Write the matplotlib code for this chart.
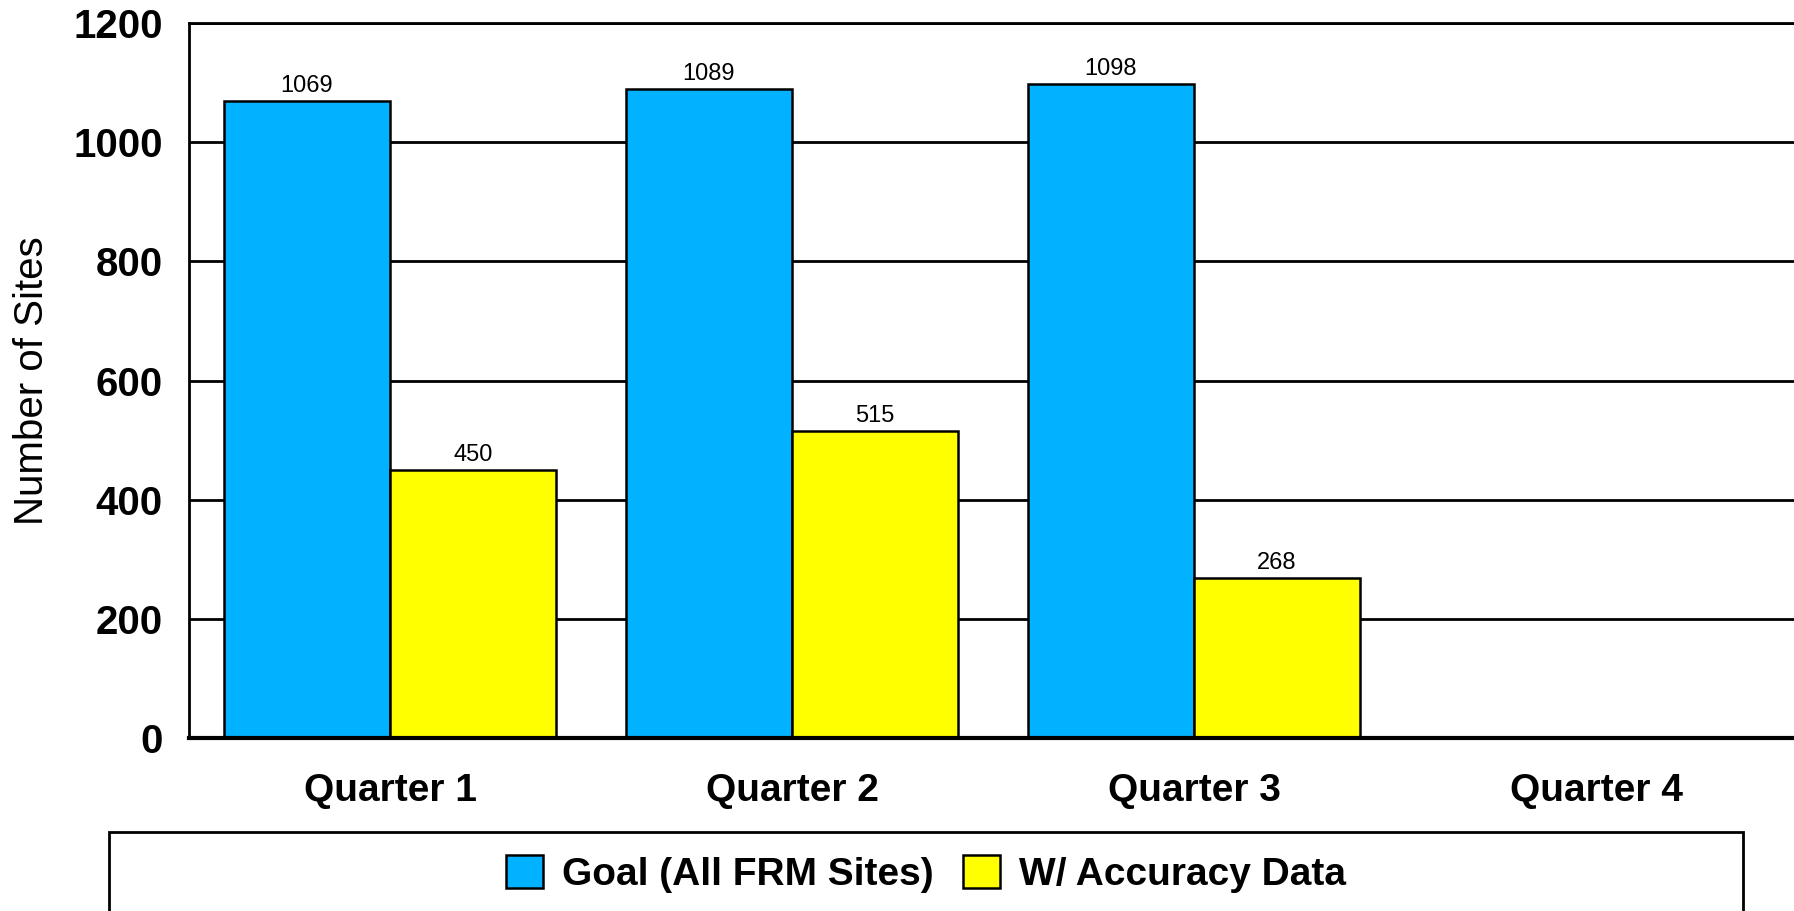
import numpy as np
import matplotlib
matplotlib.use("Agg")
import matplotlib.pyplot as plt
from matplotlib.patches import Rectangle, Patch

plt.rcParams['font.family'] = ['Liberation Sans', 'DejaVu Sans']

# Data
quarters = ["Quarter 1", "Quarter 2", "Quarter 3", "Quarter 4"]
goal_sites = [1069, 1089, 1098]
accuracy_sites = [450, 515, 268]
series_names = ["Goal (All FRM Sites)", "W/ Accuracy Data"]
y_ticks = [0, 200, 400, 600, 800, 1000, 1200]

blue = "#00B2FF"
yellow = "#FFFF00"

W, H = 1794, 911
fig = plt.figure(figsize=(W / 100, H / 100), dpi=100)
ax_left, ax_right = 189, 1797
ax = fig.add_axes([ax_left / W, (H - 738) / H, (ax_right - ax_left) / W, (738 - 23) / H])

bar_w = 0.413
x = np.arange(len(goal_sites))
b1 = ax.bar(x - bar_w / 2, goal_sites, bar_w, color=blue, edgecolor="black",
            linewidth=1.8, zorder=3, label=series_names[0])
b2 = ax.bar(x + bar_w / 2, accuracy_sites, bar_w, color=yellow, edgecolor="black",
            linewidth=1.8, zorder=3, label=series_names[1])
for bars in (b1, b2):
    ax.bar_label(bars, labels=[str(v) for v in bars.datavalues], padding=3,
                 fontsize=17, color="black")

ax.set_xlim(-0.5, len(quarters) - 0.5)
ax.set_ylim(0, 1200)
ax.set_yticks(y_ticks)
ax.set_yticklabels([str(t) for t in y_ticks], fontsize=29, fontweight="bold")
ax.set_xticks(np.arange(len(quarters)))
ax.set_xticklabels(quarters, fontsize=28, fontweight="bold")
ax.tick_params(axis="y", length=0, pad=19)
ax.tick_params(axis="x", length=0, pad=25)

ax.yaxis.grid(True, color="black", linewidth=2.0, zorder=1)
ax.set_axisbelow(True)
for side in ("left", "top"):
    ax.spines[side].set_linewidth(2.0)
ax.spines["bottom"].set_linewidth(3.0)
ax.spines["bottom"].set_zorder(4)
ax.spines["right"].set_visible(False)

ax.set_ylabel("Number of Sites", fontsize=29)
ax.yaxis.set_label_coords((51 - ax_left) / (ax_right - ax_left), 0.5)

# Legend frame running off the bottom edge
fig.patches.append(Rectangle((109 / W, -0.05), (1743 - 109) / W, 0.05 + (H - 832) / H,
                             transform=fig.transFigure, fill=False,
                             edgecolor="black", linewidth=2.0))
handles = [Patch(facecolor=blue, edgecolor="black", linewidth=1.8),
           Patch(facecolor=yellow, edgecolor="black", linewidth=1.8)]
fig.legend(handles, series_names, loc="center", bbox_to_anchor=(926 / W, (H - 874) / H),
           ncol=2, frameon=False, prop={"size": 28, "weight": "bold"},
           handlelength=0.95, handleheight=0.95, handletextpad=0.5,
           columnspacing=0.75, borderpad=0, borderaxespad=0)

fig.savefig("out.png", dpi=100)
